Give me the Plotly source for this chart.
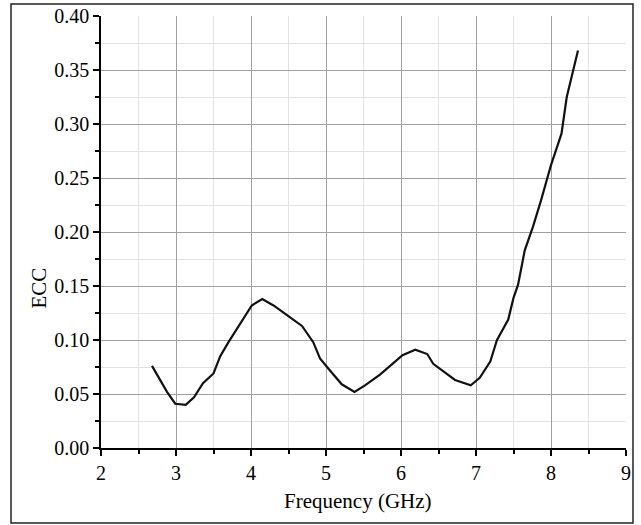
import plotly.graph_objects as go

freq_ghz = [2.68, 2.88, 2.99, 3.13, 3.24, 3.36, 3.50, 3.59, 3.70, 3.85, 4.01, 4.15,
            4.30, 4.48, 4.68, 4.83, 4.92, 5.05, 5.21, 5.38, 5.52, 5.72, 5.92, 6.02,
            6.19, 6.35, 6.43, 6.57, 6.72, 6.93, 7.05, 7.19, 7.28, 7.43, 7.50, 7.56,
            7.65, 7.76, 7.87, 8.00, 8.14, 8.21, 8.30, 8.36]
ecc = [0.076, 0.052, 0.041, 0.040, 0.047, 0.060, 0.069, 0.085, 0.098, 0.115, 0.132, 0.138,
       0.132, 0.123, 0.113, 0.098, 0.083, 0.072, 0.059, 0.052, 0.058, 0.068, 0.080, 0.086,
       0.091, 0.087, 0.078, 0.071, 0.063, 0.058, 0.065, 0.080, 0.100, 0.119, 0.139, 0.151,
       0.183, 0.205, 0.230, 0.262, 0.291, 0.325, 0.350, 0.368]

x_ticks = [2, 3, 4, 5, 6, 7, 8, 9]
y_ticks = [0.00, 0.05, 0.10, 0.15, 0.20, 0.25, 0.30, 0.35, 0.40]
y_tick_labels = ["0.00", "0.05", "0.10", "0.15", "0.20", "0.25", "0.30", "0.35", "0.40"]
x_title = "Frequency (GHz)"
y_title = "ECC"

font_family = "Liberation Serif, Times New Roman, serif"

W, H = 641, 525
L, R, T, B = 101, 15, 16, 77
pw, ph = W - L - R, H - T - B


def px_x(p):
    return (p - L) / pw


def px_y(p):
    return (H - B - p) / ph


fig = go.Figure()
fig.add_trace(go.Scatter(x=freq_ghz, y=ecc, mode="lines",
                         line=dict(color="#111111", width=2.2), showlegend=False))

fig.update_layout(
    width=W, height=H,
    margin=dict(l=L, r=R, t=T, b=B, autoexpand=False),
    paper_bgcolor="white", plot_bgcolor="white",
    font=dict(family=font_family, color="black", size=20),
    shapes=[dict(type="rect", xref="paper", yref="paper",
                 x0=px_x(11), x1=px_x(633), y0=px_y(523), y1=px_y(4),
                 line=dict(color="#222222", width=1.5))],
    annotations=[
        dict(text=x_title, xref="paper", yref="paper", x=px_x(358), y=px_y(501),
             xanchor="center", yanchor="middle", showarrow=False,
             font=dict(size=21)),
        dict(text=y_title, xref="paper", yref="paper", x=px_x(38.5), y=px_y(288),
             xanchor="center", yanchor="middle", showarrow=False, textangle=-90,
             font=dict(size=21)),
    ],
)
fig.update_xaxes(
    range=[2, 9], tickmode="array", tickvals=x_ticks, automargin=False,
    showline=True, linecolor="black", linewidth=1.5,
    ticks="outside", ticklen=6, tickwidth=1.5, tickcolor="black",
    showgrid=True, gridcolor="#a0a0a0", gridwidth=1,
    zeroline=False,
    minor=dict(dtick=0.5, ticks="outside", ticklen=4, tickwidth=1.5, tickcolor="black",
               showgrid=True, gridcolor="#e2e2e2", gridwidth=1),
    tickfont=dict(size=20),
)
fig.update_yaxes(
    range=[0, 0.4], tickmode="array", tickvals=y_ticks, ticktext=y_tick_labels,
    automargin=False,
    showline=True, linecolor="black", linewidth=1.5,
    ticks="outside", ticklen=6, tickwidth=1.5, tickcolor="black",
    showgrid=True, gridcolor="#a0a0a0", gridwidth=1,
    zeroline=False,
    minor=dict(dtick=0.025, ticks="outside", ticklen=4, tickwidth=1.5, tickcolor="black",
               showgrid=True, gridcolor="#e2e2e2", gridwidth=1),
    tickfont=dict(size=20), ticklabelstandoff=0,
)

fig.write_html("out.html", config={"displayModeBar": False},
               post_script="document.body.style.margin='0';document.body.style.overflow='hidden';")
